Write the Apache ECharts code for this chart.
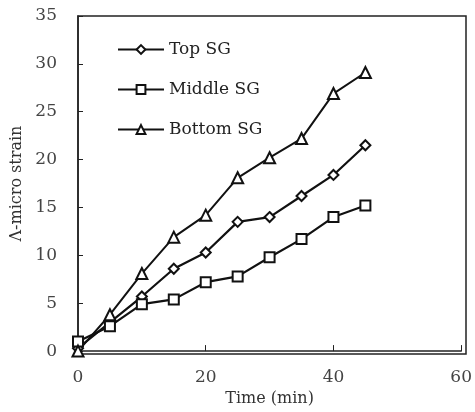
<!DOCTYPE html>
<html>
<head>
<meta charset="utf-8">
<script src="https://cdn.jsdelivr.net/npm/echarts@6/dist/echarts.min.js"></script>
<style>
  html, body { margin: 0; padding: 0; background: #fff; }
  #main { width: 475px; height: 412px; }
</style>
</head>
<body>
<div id="main"></div>
<script>
const times = [0, 5, 10, 15, 20, 25, 30, 35, 40, 45];
const topSG = [0.3, 3.0, 5.7, 8.6, 10.3, 13.5, 14.0, 16.2, 18.4, 21.5];
const middleSG = [1.0, 2.6, 4.9, 5.4, 7.2, 7.8, 9.8, 11.7, 14.0, 15.2];
const bottomSG = [0.0, 3.8, 8.1, 11.9, 14.2, 18.1, 20.2, 22.2, 26.9, 29.1];
const seriesNames = ['Top SG', 'Middle SG', 'Bottom SG'];

const font = 'DejaVu Serif, Liberation Serif, serif';

const chart = echarts.init(document.getElementById('main'));

function makeSeries(name, values, symbol, width) {
  return {
    name: name,
    type: 'line',
    data: times.map((t, i) => [t, values[i]]),
    symbol: symbol,
    symbolSize: symbol === 'triangle' ? 11 : 10,
    showAllSymbol: true,
    lineStyle: { color: '#111', width: width },
    itemStyle: { color: '#fff', borderColor: '#111', borderWidth: 2 },
    z: 3
  };
}

const option = {
  animation: false,
  grid: { left: 78, right: 9, top: 16, bottom: 58 },
  legend: {
    orient: 'vertical',
    left: 112,
    top: 36,
    itemWidth: 46,
    itemHeight: 11,
    itemGap: 23,
    textStyle: { fontFamily: font, fontSize: 17, color: '#222' },
    data: seriesNames
  },
  xAxis: {
    type: 'value',
    min: 0,
    max: 60,
    interval: 20,
    name: 'Time (min)',
    nameLocation: 'middle',
    nameGap: 38,
    nameTextStyle: { fontFamily: font, fontSize: 16, color: '#333' },
    axisLine: { lineStyle: { color: '#222', width: 1.5 } },
    axisTick: { inside: true, length: 6, lineStyle: { color: '#222' } },
    axisLabel: { fontFamily: font, fontSize: 17, color: '#444', margin: 18 },
    splitLine: { show: false }
  },
  yAxis: {
    type: 'value',
    min: 0,
    max: 35,
    interval: 5,
    name: 'Λ-micro strain',
    nameLocation: 'middle',
    nameGap: 50,
    nameTextStyle: { fontFamily: font, fontSize: 16, color: '#333' },
    axisLine: { lineStyle: { color: '#222', width: 1.5 } },
    axisTick: { inside: true, length: 5, lineStyle: { color: '#222' } },
    axisLabel: { fontFamily: font, fontSize: 17, color: '#444', margin: 21 },
    splitLine: { show: false }
  },
  series: [
    makeSeries(seriesNames[0], topSG, 'diamond', 2.2),
    makeSeries(seriesNames[1], middleSG, 'rect', 2.2),
    makeSeries(seriesNames[2], bottomSG, 'triangle', 2)
  ],
  graphic: [{
    type: 'rect',
    shape: { x: 78, y: 16, width: 388, height: 338 },
    style: { fill: 'none', stroke: '#222', lineWidth: 1.5 },
    silent: true,
    z: 0
  }]
};

chart.setOption(option);
</script>
</body>
</html>
